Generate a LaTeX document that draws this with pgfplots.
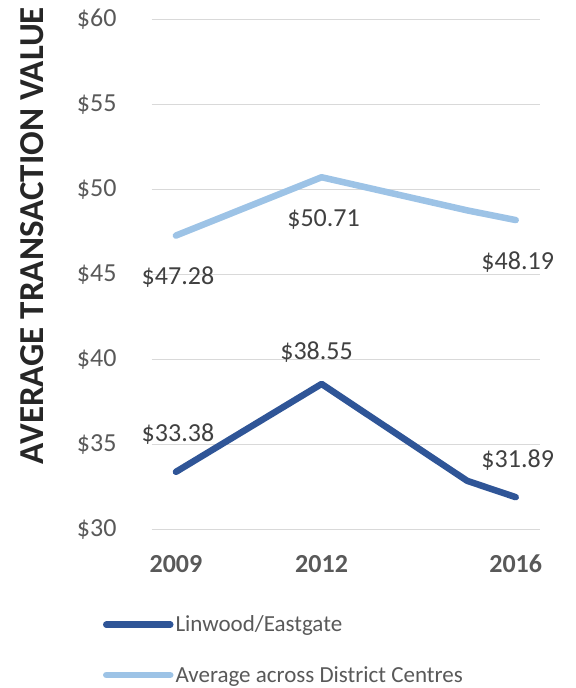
\documentclass[border=0pt]{standalone}
\usepackage{fontspec}
\setmainfont{Carlito}
\usepackage{pgfplots}
\usepackage{pgfplotstable}
\pgfplotsset{compat=1.18}

\definecolor{linblue}{HTML}{2F5597}
\definecolor{avgblue}{HTML}{9DC3E6}
\definecolor{gridgray}{HTML}{D9D9D9}
\definecolor{ticktext}{HTML}{595959}
\definecolor{labeltext}{HTML}{404040}
\definecolor{titletext}{HTML}{262626}

% average transaction value by year
\pgfplotstableread{
year value
2009 33.38
2012 38.55
2015 32.85
2016 31.89
}\linwood
\pgfplotstableread{
year value
2009 47.28
2012 50.71
2015 48.76
2016 48.19
}\average

\newcommand{\labfont}{\fontsize{26bp}{31bp}\selectfont}

\begin{document}
\begin{tikzpicture}
\useasboundingbox (-151.7bp,-158.7bp) rectangle (424.3bp,529.3bp);
\begin{axis}[
  at={(0,0)}, anchor=south west,
  scale only axis,
  width=388.3bp, height=510bp,
  xmin=2008.5, xmax=2016.5,
  ymin=30, ymax=60,
  clip=false,
  axis line style={draw=none},
  tick style={draw=none},
  xtick={2009,2012,2016},
  xticklabels={2009,2012,2016},
  ytick={30,35,40,45,50,55,60},
  yticklabels={\$30,\$35,\$40,\$45,\$50,\$55,\$60},
  ymajorgrids,
  major grid style={gridgray, line width=1.5bp},
  xticklabel style={font=\labfont\bfseries, text=ticktext, inner sep=0pt, anchor=north, yshift=-25.7bp},
  yticklabel style={font=\labfont, text=ticktext, inner sep=0pt, anchor=east, xshift=-35bp},
  ylabel={AVERAGE TRANSACTION VALUE},
  ylabel style={font=\fontsize{35bp}{41bp}\selectfont\bfseries, text=titletext,
    at={(axis description cs:-0.307,0.576)}, anchor=center, rotate=0},
  legend style={at={(axis description cs:-0.1254,-0.166)}, anchor=north west,
    draw=none, fill=none, font=\fontsize{23bp}{28bp}\selectfont, text=ticktext,
    inner sep=0pt, outer sep=0pt, row sep=29bp, cells={anchor=west},
    /tikz/every even column/.style={column sep=5bp}},
  legend image code/.code={\draw[#1] (0bp,0bp) -- (64bp,0bp);},
]
\addplot[linblue, line width=6.5bp, line cap=round, line join=round] table {\linwood};
\addlegendentry{Linwood/Eastgate}
\addplot[avgblue, line width=6.5bp, line cap=round, line join=round] table {\average};
\addlegendentry{Average across District Centres}

% data labels
\addplot[draw=none, forget plot, nodes near coords, point meta=explicit symbolic,
  every node near coord/.style={anchor=base, inner sep=0pt, font=\labfont, text=labeltext, xshift=2bp, yshift=-49bp}]
  coordinates {(2009,47.28)[\$47.28] (2012,50.71)[\$50.71] (2016,48.19)[\$48.19]};
\addplot[draw=none, forget plot, nodes near coords, point meta=explicit symbolic,
  every node near coord/.style={anchor=base, inner sep=0pt, font=\labfont, text=labeltext, xshift=2bp, yshift=30bp}]
  coordinates {(2009,33.38)[\$33.38] (2016,31.89)[\$31.89]};
\addplot[draw=none, forget plot, nodes near coords, point meta=explicit symbolic,
  every node near coord/.style={anchor=base, inner sep=0pt, font=\labfont, text=labeltext, xshift=-5bp, yshift=24bp}]
  coordinates {(2012,38.55)[\$38.55]};
\end{axis}
\end{tikzpicture}
\end{document}
